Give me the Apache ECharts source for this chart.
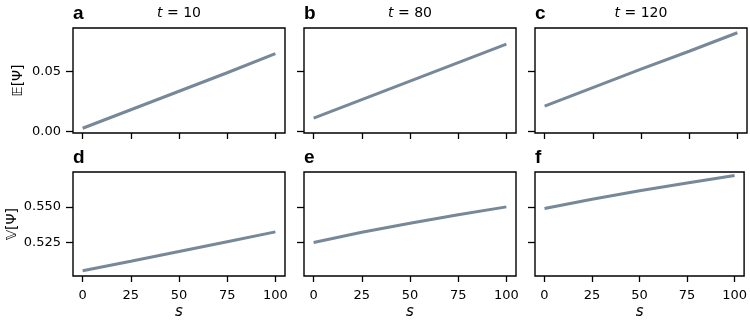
<!DOCTYPE html>
<html lang="en">
  <head>
    <meta charset="utf-8" />
    <script type="text/javascript" src="https://cdn.jsdelivr.net/npm/echarts@6/dist/echarts.min.js"></script>
    <title>Mean and variance of Psi vs s</title>
    <style>
      html, body { margin: 0; padding: 0; background: #fff; }
      #chart { width: 750px; height: 321px; }
    </style>
  </head>
  <body>
    <div id="chart"></div>
    <script>
      // values
      const sValues = [0, 25, 50, 75, 100]
      const meanT10 = [0.0025, 0.018, 0.0335, 0.049, 0.065]
      const meanT80 = [0.011, 0.0265, 0.042, 0.0575, 0.073]
      const meanT120 = [0.021, 0.0365, 0.052, 0.067, 0.0825]
      const varT10 = [0.5051, 0.5118, 0.5186, 0.5255, 0.5324]
      const varT80 = [0.525, 0.5321, 0.5385, 0.5445, 0.550]
      const varT120 = [0.5488, 0.5554, 0.5613, 0.5668, 0.5720]
      const timeLabels = ['10', '80', '120']
      const panelLetters = ['a', 'b', 'c', 'd', 'e', 'f']
      const sTicks = [0, 25, 50, 75, 100]
      const meanTicks = [0, 0.05]
      const varTicks = [0.525, 0.55]

      const rows = [
        { series: [meanT10, meanT80, meanT120], ticks: meanTicks, digits: 2, min: -0.0015, max: 0.0865, name: '𝔼[Ψ]', gap: 48 },
        { series: [varT10, varT80, varT120], ticks: varTicks, digits: 3, min: 0.5014, max: 0.5745, name: '𝕍[Ψ]', gap: 54 }
      ]
      const lefts = [73, 304, 535]
      const tops = [28, 172]
      const W = 212, H = 105
      const FONT = 'DejaVu Sans'

      const grid = [], xAxis = [], yAxis = [], series = [], graphic = []
      rows.forEach(function (row, r) {
        row.series.forEach(function (vals, c) {
          const i = grid.length
          grid.push({ left: lefts[c], top: tops[r], width: W, height: H, show: true, borderColor: '#000', borderWidth: 1.4, backgroundColor: 'transparent' })
          xAxis.push({
            type: 'value', gridIndex: i, min: -5, max: 105,
            axisLine: { show: false, onZero: false },
            splitLine: { show: false },
            axisTick: { show: true, inside: false, length: 6, lineStyle: { color: '#000', width: 1.3 }, customValues: sTicks },
            axisLabel: { show: r === 1, margin: 13, color: '#000', fontFamily: FONT, fontSize: 13, customValues: sTicks },
            name: r === 1 ? 's' : '', nameLocation: 'middle', nameGap: 29,
            nameTextStyle: { fontFamily: FONT, fontSize: 15, fontStyle: 'italic', color: '#000' }
          })
          yAxis.push({
            type: 'value', gridIndex: i, min: row.min, max: row.max,
            axisLine: { show: false, onZero: false },
            splitLine: { show: false },
            axisTick: { show: true, inside: false, length: 7, lineStyle: { color: '#000', width: 1.3 }, customValues: row.ticks },
            axisLabel: {
              show: c === 0, margin: 12, color: '#000', fontFamily: FONT, fontSize: 13, customValues: row.ticks,
              formatter: function (v) { return v.toFixed(row.digits) }
            },
            name: c === 0 ? row.name : '', nameLocation: 'middle', nameGap: row.gap, nameRotate: 90,
            nameTextStyle: { fontFamily: FONT, fontSize: 14, color: '#000' }
          })
          series.push({
            type: 'line', xAxisIndex: i, yAxisIndex: i, showSymbol: false, symbol: 'none',
            lineStyle: { color: '#778899', width: 3 },
            data: sValues.map(function (s, k) { return [s, vals[k]] })
          })
          graphic.push({
            type: 'text', left: lefts[c], top: tops[r] - 24,
            style: { text: panelLetters[i], font: 'bold 19px "Liberation Sans"', fill: '#000' }
          })
        })
      })
      timeLabels.forEach(function (t, c) {
        graphic.push({
          type: 'text', x: lefts[c] + W / 2, y: 20,
          style: {
            text: '{i|t} = ' + t, textAlign: 'center', textVerticalAlign: 'bottom',
            fill: '#000', font: '14px "DejaVu Sans"',
            rich: { i: { fontStyle: 'italic', fontFamily: FONT, fontSize: 14, fill: '#000' } }
          }
        })
      })

      const chart = echarts.init(document.getElementById('chart'), null, { renderer: 'canvas' })
      chart.setOption({
        animation: false,
        backgroundColor: '#fff',
        grid: grid, xAxis: xAxis, yAxis: yAxis, series: series, graphic: graphic
      })
    </script>
  </body>
</html>
